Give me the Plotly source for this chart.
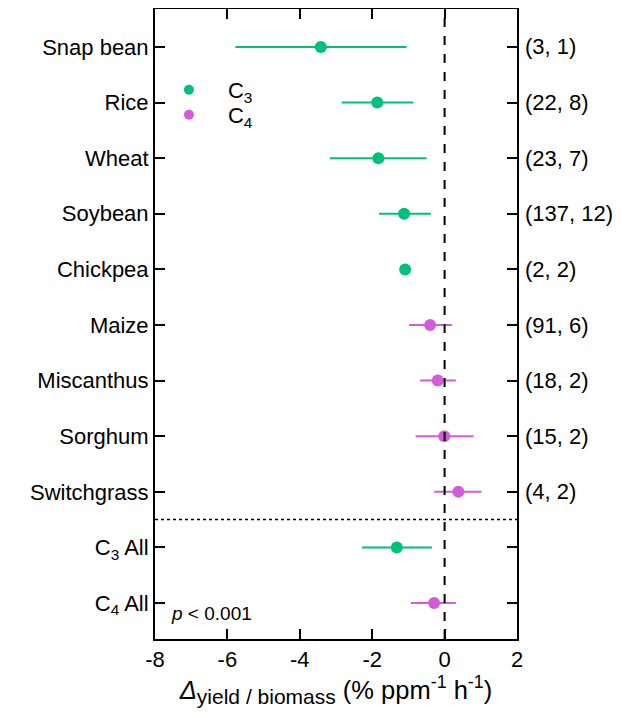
import plotly.graph_objects as go

crops = ["Snap bean", "Rice", "Wheat", "Soybean", "Chickpea", "Maize",
         "Miscanthus", "Sorghum", "Switchgrass", "C<sub>3</sub> All", "C<sub>4</sub> All"]
groups = ["C3", "C3", "C3", "C3", "C3", "C4", "C4", "C4", "C4", "C3", "C4"]
means = [-3.42, -1.86, -1.83, -1.12, -1.09, -0.40, -0.19, -0.01, 0.38, -1.32, -0.29]
lows = [-5.78, -2.84, -3.17, -1.81, -1.17, -0.98, -0.68, -0.80, -0.29, -2.28, -0.93]
highs = [-1.05, -0.86, -0.50, -0.38, -1.01, 0.20, 0.31, 0.80, 1.02, -0.35, 0.31]
counts = ["(3, 1)", "(22, 8)", "(23, 7)", "(137, 12)", "(2, 2)", "(91, 6)",
          "(18, 2)", "(15, 2)", "(4, 2)", "", ""]
xticks = [-8, -6, -4, -2, 0, 2]
xticklabels = ["-8", "-6", "-4", "-2", "0", "2"]

colors = {"C3": "#00C07A", "C4": "#D45CD9"}
FONT = "Liberation Sans, Arial, sans-serif"

fig = go.Figure()
pos = list(range(len(crops)))
for g in ["C3", "C4"]:
    idx = [i for i in pos if groups[i] == g]
    fig.add_trace(go.Scatter(
        x=[means[i] for i in idx], y=[pos[i] for i in idx], mode="markers",
        marker=dict(color=colors[g], size=12),
        error_x=dict(type="data", symmetric=False,
                     array=[highs[i] - means[i] for i in idx],
                     arrayminus=[means[i] - lows[i] for i in idx],
                     color=colors[g], thickness=2, width=0),
        showlegend=False, cliponaxis=False))
for g, name, lg in [("C3", "C<sub>3</sub>", "legend"), ("C4", "C<sub>4</sub>", "legend2")]:
    fig.add_trace(go.Scatter(x=[None], y=[None], mode="markers", name=name,
                             legend=lg, marker=dict(color=colors[g], size=10)))

fig.add_shape(type="line", xref="x", yref="paper", x0=0, x1=0, y0=0, y1=1,
              line=dict(color="black", width=2, dash="dash"))
fig.add_shape(type="line", xref="paper", yref="y", x0=0, x1=1, y0=8.5, y1=8.5,
              line=dict(color="black", width=1.5, dash="dot"))

for i, c in enumerate(counts):
    if c:
        fig.add_annotation(x=1, xref="paper", y=pos[i], yref="y", text=c,
                           showarrow=False, xanchor="left", xshift=6,
                           font=dict(size=22, color="black", family=FONT))
fig.add_annotation(x=0.04, xref="paper", y=0.02, yref="paper",
                   text="<i>p</i> < 0.001", showarrow=False,
                   xanchor="left", yanchor="bottom",
                   font=dict(size=19, color="black", family=FONT))

PH = 630.0
def ly(py):
    return 1 - (py - 9) / PH

leg_common = dict(xanchor="left", yanchor="middle", bgcolor="rgba(0,0,0,0)",
                  font=dict(size=22), itemwidth=68)
fig.update_layout(
    width=620, height=710,
    margin=dict(l=147, r=111, t=1, b=79),
    paper_bgcolor="white", plot_bgcolor="white",
    font=dict(family=FONT, size=22, color="black"),
    legend=dict(x=-0.014, y=ly(90), **leg_common),
    legend2=dict(x=-0.014, y=ly(115), **leg_common),
    xaxis=dict(range=[-8, 2], tickvals=xticks, ticktext=xticklabels,
               ticks="inside", ticklen=10, tickwidth=2, tickcolor="black",
               showline=True, linewidth=2, linecolor="black", mirror="ticks",
               showgrid=False, zeroline=False, automargin=False,
               title=dict(text="<i>Δ</i><sub><span style='font-size:21px'>yield / biomass</span></sub> (% ppm<sup>-1</sup> h<sup>-1</sup>)",
                          font=dict(size=25.5), standoff=8)),
    yaxis=dict(range=[10.647, -0.683], tickvals=pos, ticktext=crops,
               ticks="inside", ticklen=10, tickwidth=2, tickcolor="black",
               showline=True, linewidth=2, linecolor="black", mirror="ticks",
               showgrid=False, zeroline=False, automargin=False),
)
fig.write_html("out.html")
